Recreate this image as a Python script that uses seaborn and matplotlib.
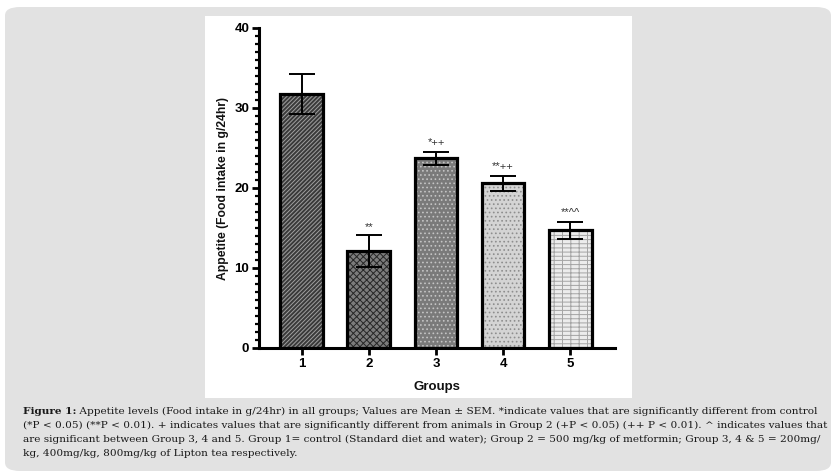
import matplotlib
matplotlib.use("Agg")
import matplotlib.pyplot as plt
import matplotlib.patches as mpatches
from matplotlib.ticker import MultipleLocator
import pandas as pd
import seaborn as sns

# ---- data ----
groups = ['1', '2', '3', '4', '5']
appetite_mean = [31.8, 12.1, 23.7, 20.6, 14.7]
appetite_sem = [2.5, 2.0, 0.85, 0.95, 1.1]
sig_labels = ['', '**', '*++', '**++', '**^^']

caption_head = 'Figure 1:'
caption_lines = [
    ' Appetite levels (Food intake in g/24hr) in all groups; Values are Mean \u00b1 SEM. *indicate values that are significantly different from control',
    '(*P < 0.05) (**P < 0.01). + indicates values that are significantly different from animals in Group 2 (+P < 0.05) (++ P < 0.01). ^ indicates values that',
    'are significant between Group 3, 4 and 5. Group 1= control (Standard diet and water); Group 2 = 500 mg/kg of metformin; Group 3, 4 & 5 = 200mg/',
    'kg, 400mg/kg, 800mg/kg of Lipton tea respectively.',
]

# bar looks (face, hatch, hatch colour)
faces = ['#3a3a3a', '#7c7c7c', '#7a7a7a', '#d4d4d4', '#ececec']
hatches = ['////////', 'xxxxx', '....', '....', '++--']
hatch_cols = ['#a0a0a0', '#262626', '#c4c4c4', '#8e8e8e', '#a4a4a4']

df = pd.DataFrame({'Groups': groups, 'Appetite': appetite_mean, 'SEM': appetite_sem})

sns.set_theme(style='white')
plt.rcParams['font.family'] = ['Liberation Sans', 'DejaVu Sans']
plt.rcParams['hatch.linewidth'] = 0.7

fig = plt.figure(figsize=(8.38, 4.76), dpi=100)
W, H = 838, 476

# grey rounded panel + white chart box
panel = mpatches.FancyBboxPatch((5 / W, 5 / H), 826 / W, 464 / H,
                                boxstyle='round,pad=0,rounding_size=0.018',
                                transform=fig.transFigure, facecolor='#e2e2e2',
                                edgecolor='none', zorder=-2)
fig.patches.append(panel)
white = mpatches.Rectangle((205 / W, 1 - 398 / H), 427 / W, 382 / H,
                           transform=fig.transFigure, facecolor='white',
                           edgecolor='none', zorder=-1)
fig.patches.append(white)

ax = fig.add_axes([259 / W, 1 - 348 / H, 356 / W, 320 / H])
ax.patch.set_alpha(0)

sns.barplot(data=df, x='Groups', y='Appetite', order=groups, errorbar=None,
            width=0.64, ax=ax, zorder=2)

for i, bar in enumerate(ax.patches):
    bar.set_facecolor(faces[i])
    bar.set_hatch(hatches[i])
    bar.set_edgecolor(hatch_cols[i])
    bar.set_linewidth(0)
    outline = mpatches.Rectangle(bar.get_xy(), bar.get_width(), bar.get_height(),
                                 facecolor='none', edgecolor='black', linewidth=2.3,
                                 zorder=3)
    ax.add_patch(outline)

xpos = list(range(len(groups)))
ax.errorbar(xpos, df['Appetite'], yerr=df['SEM'], fmt='none', ecolor='black',
            elinewidth=1.4, capsize=9.5, capthick=1.4, zorder=4)

for x, m, s, lab in zip(xpos, df['Appetite'], df['SEM'], sig_labels):
    if lab:
        ax.text(x, m + s + 0.45, lab, ha='center', va='bottom', fontsize=8, color='#333333')

ax.set_xlim(-0.64, 4.67)
ax.set_ylim(0, 40)
ax.yaxis.set_major_locator(MultipleLocator(10))
ax.yaxis.set_minor_locator(MultipleLocator(1))
sns.despine(ax=ax)
for side in ['left', 'bottom']:
    ax.spines[side].set_linewidth(2.2)
    ax.spines[side].set_color('black')
ax.tick_params(axis='both', which='major', direction='out', length=5, width=2.0,
               color='black', labelsize=9.5, left=True, bottom=True, pad=2)
ax.tick_params(axis='y', which='minor', direction='out', length=3, width=1.6,
               color='black', left=True)
for t in ax.get_xticklabels() + ax.get_yticklabels():
    t.set_fontweight('bold')
    t.set_color('black')
ax.set_xlabel('Groups', fontsize=9.5, fontweight='bold', color='#111111', labelpad=8)
ax.set_ylabel('Appetite (Food intake in g/24hr)', fontsize=8.7, fontweight='bold',
              color='#111111', labelpad=4)

# caption
cap_kw = dict(family=['DejaVu Serif'], fontsize=7.55, color='#1a1a1a',
              va='center', ha='left')
y0 = 411
head = fig.text(23 / W, 1 - y0 / H, caption_head, fontweight='bold', **cap_kw)
fig.canvas.draw()
bb = head.get_window_extent(renderer=fig.canvas.get_renderer())
fig.text(bb.x1 / W, 1 - y0 / H, caption_lines[0], **cap_kw)
for k, line in enumerate(caption_lines[1:], start=1):
    fig.text(23 / W, 1 - (y0 + 14 * k) / H, line, **cap_kw)

fig.savefig('out.png', dpi=100, facecolor='white')
